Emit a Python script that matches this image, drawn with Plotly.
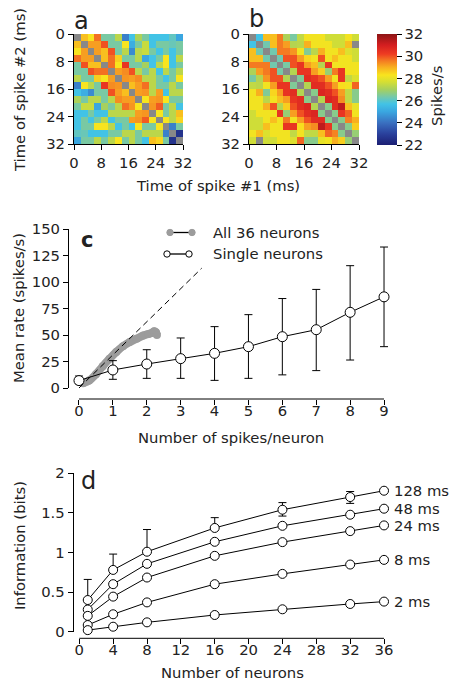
import plotly.graph_objects as go

# ------------------------------------------------------------------ data
heat_ticks = [0, 8, 16, 24, 32]
bin_ms = 2
cbar_ticks = [22, 24, 26, 28, 30, 32]

# panel a: upper triangle of the (symmetric) rate matrix, row i holds cols i+1..15 (spikes/s)
upper_a = [
    [28.8, 28.3, 29.7, 26.4, 26.4, 27.3, 24.3, 25.7, 27.1, 26.4, 25.7, 25.7, 25.7, 26.1, 25.0],
    [29.2, 29.2, 30.0, 26.4, 26.4, 28.3, 25.2, 26.4, 27.5, 25.7, 26.4, 26.4, 26.2, 26.4],
    [29.2, 28.8, 30.0, 26.4, 27.3, 24.5, 27.3, 27.5, 26.4, 25.7, 26.4, 25.7, 26.4],
    [28.8, 29.7, 28.6, 26.4, 26.4, 27.3, 25.0, 25.7, 26.4, 28.3, 25.7, 27.3],
    [29.7, 28.3, 30.4, 26.4, 26.4, 27.0, 25.7, 27.3, 28.3, 25.7, 26.4],
    [29.2, 29.4, 30.0, 27.3, 26.4, 27.3, 25.7, 27.3, 26.4, 27.3],
    [29.3, 29.2, 29.4, 27.3, 27.3, 26.4, 25.7, 26.4, 28.3],
    [28.8, 29.2, 29.7, 27.3, 26.4, 26.4, 27.3, 26.4],
    [29.2, 29.3, 27.3, 29.2, 25.7, 27.3, 27.3],
    [28.3, 29.2, 29.3, 28.3, 26.4, 26.4],
    [29.3, 29.9, 26.4, 27.3, 25.7],
    [28.3, 26.4, 27.3, 28.8],
    [28.3, 27.3, 28.5],
    [24.3, 26.4],
    [22.6],
]

# panel b: same layout
upper_b = [
    [25.7, 28.8, 28.8, 29.6, 27.1, 26.4, 27.4, 28.2, 28.2, 28.2, 27.6, 27.6, 27.6, 28.2, 27.6],
    [26.3, 28.8, 29.6, 29.2, 27.2, 27.3, 29.0, 28.2, 28.2, 28.2, 27.6, 27.6, 28.8],
    [26.3, 29.6, 29.6, 29.3, 28.2, 26.5, 27.3, 29.0, 28.2, 28.2, 28.8, 27.8, 27.6],
    [26.3, 30.0, 30.0, 29.2, 28.5, 28.2, 30.0, 28.2, 28.8, 28.2, 28.2, 27.6],
    [26.4, 30.0, 30.4, 29.2, 28.8, 27.2, 30.4, 28.2, 28.2, 28.2, 28.2],
    [27.2, 30.4, 30.4, 29.2, 28.6, 26.8, 29.6, 30.4, 28.2, 28.2],
    [26.5, 30.6, 30.4, 30.0, 29.2, 28.2, 30.4, 27.4, 27.8],
    [27.2, 30.6, 30.6, 30.0, 29.2, 28.4, 28.2, 29.8],
    [26.6, 30.8, 30.6, 30.0, 29.2, 27.4, 26.6],
    [27.2, 30.8, 30.6, 29.4, 27.4, 26.6],
    [26.6, 30.6, 31.3, 28.8, 28.0],
    [26.6, 30.4, 29.8, 28.2],
    [26.6, 29.5, 29.0],
    [26.6, 28.6],
    [26.8],
]

# panel c
c_xticks = [0, 1, 2, 3, 4, 5, 6, 7, 8, 9]
c_yticks = [0, 25, 50, 75, 100, 125, 150]
single_x = [0, 1, 2, 3, 4, 5, 6, 7, 8, 9]
single_mean = [7, 17, 22.6, 27.7, 32.7, 39, 48.4, 55, 71.4, 86]
single_err_up = [4.3, 8.8, 13.5, 19.5, 25.2, 30.2, 36, 38, 44, 47]
single_err_dn = [3.1, 8.8, 13.5, 18.6, 25.5, 29.9, 36, 38.6, 45, 47]
all_x = [0.12, 0.3, 0.5, 0.7, 0.9, 1.1, 1.3, 1.5, 1.7, 1.9, 2.05, 2.15, 2.22, 2.27, 2.3]
all_y = [4.5, 7, 13, 20.5, 27.5, 34, 39.5, 43.5, 46.5, 49.5, 51, 52, 53.5, 52.5, 50]
dash_x = [0, 3.62]
dash_y = [0, 113]

# panel d
d_xticks = [0, 4, 8, 12, 16, 20, 24, 28, 32, 36]
d_yticks = [0, 0.5, 1, 1.5, 2]
d_ytext = ["0", "0.5", "1", "1.5", "2"]
n_neurons = [1, 4, 8, 16, 24, 32, 36]
info_labels = ["128 ms", "48 ms", "24 ms", "8 ms", "2 ms"]
info_values = [
    [0.40, 0.78, 1.01, 1.31, 1.54, 1.70, 1.78],
    [0.28, 0.60, 0.857, 1.135, 1.337, 1.477, 1.553],
    [0.20, 0.443, 0.684, 0.958, 1.131, 1.27, 1.342],
    [0.084, 0.22, 0.37, 0.60, 0.73, 0.848, 0.907],
    [0.02, 0.063, 0.118, 0.211, 0.283, 0.35, 0.38],
]
info128_err_up = [0.26, 0.20, 0.28, 0.13, 0.09, 0.07, 0.0]
info128_err_dn = [0.0, 0.0, 0.0, 0.0, 0.08, 0.08, 0.0]

# ------------------------------------------------------------------ helpers
W, H = 450, 690
FONT = "DejaVu Sans"
FS = 14.8


def px(x):
    return x / W


def py(y):
    return 1 - y / H


def full(upper):
    n = len(upper) + 1
    m = [[None] * n for _ in range(n)]
    for i, row in enumerate(upper):
        for k, v in enumerate(row):
            j = i + 1 + k
            m[i][j] = v
            m[j][i] = v
    return m


za = full(upper_a)
zb = full(upper_b)
mask_a = [[1 if v is None else None for v in row] for row in za]
mask_b = [[1 if v is None else None for v in row] for row in zb]

cscale = [
    [0.00, "#1c1f73"],
    [0.10, "#2a409c"],
    [0.20, "#3a70c0"],
    [0.30, "#3aa6e0"],
    [0.37, "#42c3e6"],
    [0.43, "#72c8ae"],
    [0.50, "#a6d05e"],
    [0.57, "#d6df32"],
    [0.63, "#f8e41e"],
    [0.70, "#f8b020"],
    [0.76, "#f47a22"],
    [0.82, "#ee3c22"],
    [0.90, "#d41e20"],
    [1.00, "#8c1515"],
]

fig = go.Figure()

for z, mask, xa, ya, show in [(za, mask_a, "x", "y", True), (zb, mask_b, "x2", "y2", False)]:
    fig.add_trace(go.Heatmap(
        z=z, x0=bin_ms / 2, dx=bin_ms, y0=bin_ms / 2, dy=bin_ms,
        colorscale=cscale, zmin=22, zmax=32, xaxis=xa, yaxis=ya,
        showscale=show, hoverinfo="skip",
        colorbar=dict(
            x=px(377), xanchor="left", y=py(34), yanchor="top",
            len=111 / H, lenmode="fraction", thickness=20, thicknessmode="pixels",
            xpad=0, ypad=0, outlinewidth=0, tickvals=cbar_ticks, ticks="outside",
            ticklen=5, tickcolor="black", tickfont=dict(family=FONT, size=FS, color="#222"),
        ),
    ))
    fig.add_trace(go.Heatmap(
        z=mask, x0=bin_ms / 2, dx=bin_ms, y0=bin_ms / 2, dy=bin_ms,
        colorscale=[[0, "#888888"], [1, "#888888"]], showscale=False,
        xaxis=xa, yaxis=ya, hoverinfo="skip",
    ))

# panel c traces
fig.add_trace(go.Scatter(
    x=all_x, y=all_y, mode="lines+markers", line=dict(color="#9c9c9c", width=8, shape="spline"),
    marker=dict(color="#9c9c9c", size=8), xaxis="x3", yaxis="y3", showlegend=False, cliponaxis=False,
))
fig.add_trace(go.Scatter(
    x=dash_x, y=dash_y, mode="lines", line=dict(color="black", width=1, dash="6px,4px"),
    xaxis="x3", yaxis="y3", showlegend=False,
))
fig.add_trace(go.Scatter(
    x=single_x, y=single_mean, mode="lines+markers",
    line=dict(color="black", width=1),
    marker=dict(symbol="circle", color="white", size=10, line=dict(color="black", width=1)),
    error_y=dict(type="data", array=single_err_up, arrayminus=single_err_dn, color="black",
                 thickness=1, width=4),
    xaxis="x3", yaxis="y3", showlegend=False, cliponaxis=False,
))

# panel d traces
for i, (lab, vals) in enumerate(zip(info_labels, info_values)):
    err = None
    if i == 0:
        err = dict(type="data", array=info128_err_up, arrayminus=info128_err_dn, color="black",
                   thickness=1, width=4)
    fig.add_trace(go.Scatter(
        x=n_neurons, y=vals, mode="lines+markers", line=dict(color="black", width=1),
        marker=dict(symbol="circle", color="white", size=9, line=dict(color="black", width=1)),
        error_y=err, xaxis="x4", yaxis="y4", showlegend=False, cliponaxis=False,
    ))

tickfont = dict(family=FONT, size=FS, color="#222")
common = dict(showgrid=False, zeroline=False, ticks="outside", ticklen=5, tickcolor="black",
              tickwidth=1, linecolor="black", linewidth=1, tickfont=tickfont, automargin=False)

fig.update_layout(
    width=W, height=H, margin=dict(l=0, r=0, t=0, b=0, pad=0, autoexpand=False),
    paper_bgcolor="white", plot_bgcolor="white", showlegend=False,
    font=dict(family=FONT, size=FS, color="#222"),
    xaxis=dict(domain=[px(74), px(183)], range=[0, 32], tickvals=heat_ticks, showline=True,
               anchor="y", **common),
    yaxis=dict(domain=[py(144), py(34)], range=[32, 0], tickvals=heat_ticks, showline=True,
               anchor="x", **common),
    xaxis2=dict(domain=[px(249), px(359)], range=[0, 32], tickvals=heat_ticks, showline=True,
                anchor="y2", **common),
    yaxis2=dict(domain=[py(144), py(34)], range=[32, 0], tickvals=heat_ticks, showline=True,
                anchor="x2", **common),
    xaxis3=dict(domain=[px(68.8), px(394.2)], range=[-0.3, 9.3], tickvals=c_xticks,
                showline=False, anchor="free", position=py(399), ticklabelstandoff=-7, **common),
    yaxis3=dict(domain=[py(388), py(229)], range=[0, 150], tickvals=c_yticks,
                showline=True, anchor="free", position=px(68), **common),
    xaxis4=dict(domain=[px(72.5), px(392.5)], range=[-0.8, 37], tickvals=d_xticks,
                showline=False, anchor="free", position=py(638.3), ticklabelstandoff=-7, **common),
    yaxis4=dict(domain=[py(631.7), py(473.3)], range=[0, 2], tickvals=d_yticks, ticktext=d_ytext,
                showline=True, anchor="free", position=px(72.7), **common),
)

shapes = [
    dict(type="line", xref="x3", yref="paper", x0=c_xticks[0], x1=c_xticks[-1],
         y0=py(399), y1=py(399), line=dict(color="black", width=1)),
    dict(type="line", xref="x4", yref="paper", x0=d_xticks[0], x1=d_xticks[-1],
         y0=py(638.3), y1=py(638.3), line=dict(color="black", width=1)),
    # legend glyphs (panel c)
    dict(type="line", xref="paper", yref="paper", x0=px(170), x1=px(192), y0=py(232.5), y1=py(232.5),
         line=dict(color="black", width=1.3)),
    dict(type="line", xref="paper", yref="paper", x0=px(167), x1=px(189), y0=py(254), y1=py(254),
         line=dict(color="black", width=1.3)),
]
for cx, cy, fill in [(170, 232.5, "#9c9c9c"), (192, 232.5, "#9c9c9c"), (167, 254, "white"), (189, 254, "white")]:
    r = 3.2
    shapes.append(dict(type="circle", xref="paper", yref="paper", x0=px(cx - r), x1=px(cx + r),
                       y0=py(cy + r), y1=py(cy - r), fillcolor=fill,
                       line=dict(color="black" if fill == "white" else fill, width=1)))
fig.update_layout(shapes=shapes)

ann = []


def text(x, y, s, size=FS, angle=0, xanchor="center", yanchor="middle", bold=False, xref="paper",
         yref="paper", xshift=0):
    ann.append(dict(x=x, y=y, xref=xref, yref=yref, text=("<b>%s</b>" % s) if bold else s,
                    showarrow=False, textangle=angle, xanchor=xanchor, yanchor=yanchor,
                    xshift=xshift, font=dict(family=FONT, size=size, color="#222")))


text(px(81), py(21), "a", size=24)
text(px(256), py(19), "b", size=24)
text(px(87), py(240), "c", size=21, bold=True)
text(px(88), py(481), "d", size=24)
text(px(19), py(90), "Time of spike #2 (ms)", angle=-90)
text(px(218), py(185), "Time of spike #1 (ms)")
text(px(437), py(96), "Spikes/s", angle=-90)
text(px(19), py(308), "Mean rate (spikes/s)", angle=-90)
text(px(231), py(437), "Number of spikes/neuron")
text(px(19), py(546), "Information (bits)", angle=-90)
text(px(232), py(672), "Number of neurons")
text(px(211), py(232.5), "All 36 neurons", xanchor="left")
text(px(211), py(254), "Single neurons", xanchor="left")
for lab, vals in zip(info_labels, info_values):
    text(n_neurons[-1], vals[-1], lab, xanchor="left", xref="x4", yref="y4", xshift=8)
fig.update_layout(annotations=ann)

fig.write_html("out.html", config={"displayModeBar": False},
               post_script="document.body.style.margin='0px';document.body.style.overflow='hidden';")
